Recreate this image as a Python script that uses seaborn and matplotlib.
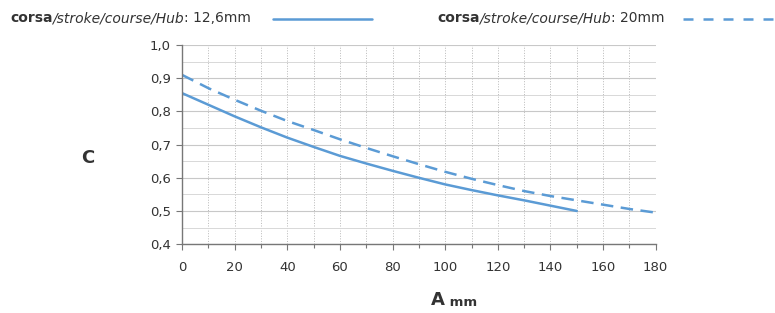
import numpy as np
import pandas as pd
import seaborn as sns
import matplotlib
matplotlib.use('Agg')
from matplotlib import pyplot as plt
from matplotlib.ticker import MultipleLocator, FuncFormatter

# 데이터
x_short = [0, 10, 20, 30, 40, 50, 60, 70, 80, 90, 100, 110, 120, 130, 140, 150]
c_short = [0.855, 0.82, 0.785, 0.752, 0.721, 0.693, 0.666, 0.643, 0.621, 0.60,
           0.58, 0.563, 0.547, 0.532, 0.516, 0.50]
x_long = [0, 10, 20, 30, 40, 50, 60, 70, 80, 90, 100, 110, 120, 130, 140,
          150, 160, 170, 180]
c_long = [0.91, 0.87, 0.835, 0.802, 0.771, 0.744, 0.716, 0.69, 0.665, 0.641,
          0.618, 0.597, 0.578, 0.56, 0.545, 0.532, 0.519, 0.506, 0.495]
stroke_labels = ['12,6mm', '20mm']

line_color = '#5b9bd5'
text_color = '#333333'

df = pd.concat([
    pd.DataFrame({'A': x_short, 'C': c_short, 'stroke': stroke_labels[0]}),
    pd.DataFrame({'A': x_long, 'C': c_long, 'stroke': stroke_labels[1]}),
])

sns.set_theme(style='white')
plt.rcParams['font.family'] = ['DejaVu Sans']

fig = plt.figure(figsize=(7.75, 3.13), dpi=100)
ax = fig.add_axes([0.235, 0.220, 0.611, 0.636])

sns.lineplot(data=df, x='A', y='C', style='stroke', dashes={stroke_labels[0]: '', stroke_labels[1]: (5, 3)},
             color=line_color, linewidth=1.8, legend=False, ax=ax)

ax.set_xlim(0, 180)
ax.set_ylim(0.4, 1.0)
ax.xaxis.set_major_locator(MultipleLocator(20))
ax.xaxis.set_minor_locator(MultipleLocator(10))
ax.yaxis.set_major_locator(MultipleLocator(0.1))
ax.yaxis.set_minor_locator(MultipleLocator(0.05))
ax.yaxis.set_major_formatter(FuncFormatter(lambda v, p: f'{v:.1f}'.replace('.', ',')))

# 격자
ax.grid(which='major', axis='y', color='#c8c8c8', linewidth=0.8)
ax.grid(which='minor', axis='y', color='#d8d8d8', linewidth=0.7)
ax.grid(which='both', axis='x', color='#b8b8b8', linewidth=0.7, linestyle=':')
ax.set_axisbelow(True)

for s in ['top', 'right']:
    ax.spines[s].set_visible(False)
for s in ['left', 'bottom']:
    ax.spines[s].set_color('#777777')
    ax.spines[s].set_linewidth(1.0)

ax.tick_params(axis='both', which='both', bottom=True, left=True)
ax.tick_params(axis='both', which='major', direction='out', length=4, width=0.8,
               color='#777777', labelsize=9.5, labelcolor=text_color, pad=4)
ax.tick_params(axis='x', which='minor', direction='out', length=3, width=0.8, color='#777777')
ax.tick_params(axis='y', which='minor', length=0)
ax.tick_params(axis='x', which='major', pad=8)
ax.set_xlabel('')
ax.set_ylabel('')

# 축 제목
fig.text(88 / 775, 1 - 158 / 313, 'C', fontsize=13, fontweight='bold', color=text_color,
         ha='center', va='center')
t = fig.text(445 / 775, 1 - 300 / 313, 'A', fontsize=13, fontweight='bold', color=text_color,
             ha='right', va='center')
ax.annotate(' mm', xy=(1, 0), xycoords=t, fontsize=9.5, fontweight='bold',
            color=text_color, va='bottom', ha='left')


# 범례 (굵게 / 기울임 / 보통 섞인 텍스트)
def legend_text(x_px, label):
    t1 = fig.text(x_px / 775, 1 - 22 / 313, 'corsa', fontsize=10, fontweight='bold',
                  color=text_color, va='baseline')
    t2 = ax.annotate('/stroke/course/Hub', xy=(1, 0), xycoords=t1, fontsize=10,
                     style='italic', color=text_color, va='bottom')
    t3 = ax.annotate(': ' + label, xy=(1, 0), xycoords=t2, fontsize=10,
                     color=text_color, va='bottom')
    return t3


legend_text(10, stroke_labels[0])
legend_text(437, stroke_labels[1])
fig.add_artist(plt.Line2D([273 / 775, 372 / 775], [1 - 19 / 313] * 2, color=line_color,
                          linewidth=1.8))
fig.add_artist(plt.Line2D([683 / 775, 775 / 775], [1 - 19 / 313] * 2, color=line_color,
                          linewidth=1.8, linestyle=(0, (4, 4))))

fig.savefig('out.png', dpi=100)
